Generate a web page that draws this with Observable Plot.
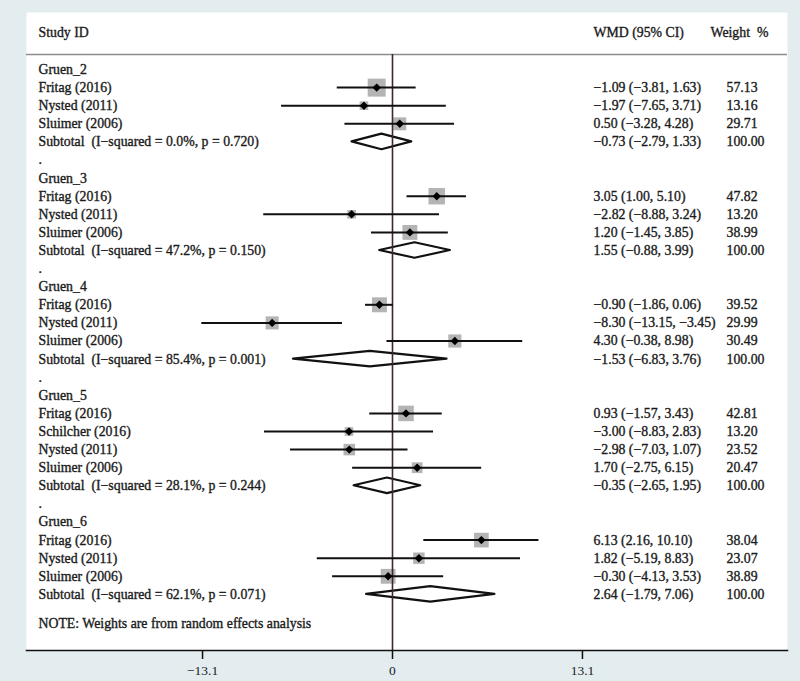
<!DOCTYPE html>
<html><head><meta charset="utf-8">
<script src="https://cdn.jsdelivr.net/npm/d3@7"></script>
<script src="https://cdn.jsdelivr.net/npm/@observablehq/plot@0.6"></script>
<style>body{margin:0;background:#e3ecef;} #chart svg{display:block}</style>
</head><body><div id="chart"></div>
<script>
const groups = ["Gruen_2", "Gruen_3", "Gruen_4", "Gruen_5", "Gruen_6"];
const studies = [
  ["Fritag (2016)", "Nysted (2011)", "Sluimer (2006)"],
  ["Fritag (2016)", "Nysted (2011)", "Sluimer (2006)"],
  ["Fritag (2016)", "Nysted (2011)", "Sluimer (2006)"],
  ["Fritag (2016)", "Schilcher (2016)", "Nysted (2011)", "Sluimer (2006)"],
  ["Fritag (2016)", "Nysted (2011)", "Sluimer (2006)"]
];
const estimates = [
  [-1.09, -1.97, 0.50],
  [3.05, -2.82, 1.20],
  [-0.90, -8.30, 4.30],
  [0.93, -3.00, -2.98, 1.70],
  [6.13, 1.82, -0.30]
];
const lowers = [
  [-3.81, -7.65, -3.28],
  [1.00, -8.88, -1.45],
  [-1.86, -13.15, -0.38],
  [-1.57, -8.83, -7.03, -2.75],
  [2.16, -5.19, -4.13]
];
const uppers = [
  [1.63, 3.71, 4.28],
  [5.10, 3.24, 3.85],
  [0.06, -3.45, 8.98],
  [3.43, 2.83, 1.07, 6.15],
  [10.10, 8.83, 3.53]
];
const weights = [
  [57.13, 13.16, 29.71],
  [47.82, 13.20, 38.99],
  [39.52, 29.99, 30.49],
  [42.81, 13.20, 23.52, 20.47],
  [38.04, 23.07, 38.89]
];
const subEst = [-0.73, 1.55, -1.53, -0.35, 2.64];
const subLow = [-2.79, -0.88, -6.83, -2.65, -1.79];
const subUp = [1.33, 3.99, 3.76, 1.95, 7.06];
const iSquared = ["0.0", "47.2", "85.4", "28.1", "62.1"];
const pValues = ["0.720", "0.150", "0.001", "0.244", "0.071"];
const tickValues = [-13.1, 0, 13.1];
const tickLabels = ["−13.1", "0", "13.1"];
const noteText = "NOTE: Weights are from random effects analysis";

const fmt = v => v.toFixed(2).replace("-", "−");
const rows = [];
let r = 0;
groups.forEach((g, i) => {
  rows.push({row: r++, kind: "group", label: g});
  studies[i].forEach((s, j) => rows.push({
    row: r++, kind: "study", label: s,
    est: estimates[i][j], lo: lowers[i][j], hi: uppers[i][j], w: weights[i][j]
  }));
  rows.push({
    row: r++, kind: "sub", g: i,
    label: `Subtotal\u00a0 (I−squared = ${iSquared[i]}%, p = ${pValues[i]})`,
    est: subEst[i], lo: subLow[i], hi: subUp[i], w: 100
  });
  if (i < groups.length - 1) rows.push({row: r++, kind: "dot", label: "."});
});
const noteRow = r + 0.6;
const studyRows = rows.filter(d => d.kind === "study");
const estRows = rows.filter(d => d.kind === "study" || d.kind === "sub");
estRows.forEach(d => {
  d.wmd = `${fmt(d.est)} (${fmt(d.lo)}, ${fmt(d.hi)})`;
  d.wt = d.w.toFixed(2);
});
const h = 0.43;
const diamonds = rows.filter(d => d.kind === "sub").flatMap(d => [
  {g: d.g, y: d.row - h, x1: d.est, x2: d.est},
  {g: d.g, y: d.row, x1: d.lo, x2: d.hi},
  {g: d.g, y: d.row + h, x1: d.est, x2: d.est}
]);

const yTop = -3.15, yBottom = 32.1, headerRow = -2.045, headerLine = -0.83;
const font = "'Liberation Serif', 'Times New Roman', serif";
const fs = 13.8;
const txt = {frameAnchor: "left", textAnchor: "start", fontSize: fs, fill: "#1a1a1a", stroke: "#1a1a1a", strokeWidth: 0.35};

const chart = Plot.plot({
  width: 800, height: 681,
  marginLeft: 26, marginRight: 13, marginTop: 12, marginBottom: 31,
  style: {background: "#e3ecef", fontFamily: font, fontSize: "13px", color: "#222"},
  x: {domain: [-25.24, 27.24]},
  y: {domain: [yTop, yBottom], reverse: true, axis: null},
  r: {domain: [0, 100], range: [0, 13.43]},
  marks: [
    Plot.frame({fill: "white", stroke: "none"}),
    Plot.ruleY([headerLine], {stroke: "#8c8c8c", strokeWidth: 1.5}),
    Plot.dot(studyRows, {x: "est", y: "row", r: "w", symbol: "square", fill: "#b4b4b4", stroke: "none"}),
    Plot.areaX(diamonds, {x1: "x1", x2: "x2", y: "y", z: "g", curve: "linear", fill: "white", stroke: "#111", strokeWidth: 2.2}),
    Plot.ruleX([0], {y1: headerLine, y2: yBottom, stroke: "#3b2a2a", strokeWidth: 1.6}),
    Plot.ruleY(studyRows, {x1: "lo", x2: "hi", y: "row", stroke: "#111", strokeWidth: 2}),
    Plot.dot(studyRows, {x: "est", y: "row", symbol: "diamond2", r: 3.8, fill: "#000", stroke: "none"}),
    Plot.text(rows, {...txt, y: "row", text: "label", dx: 12}),
    Plot.text(estRows, {...txt, y: "row", text: "wmd", dx: 567}),
    Plot.text(estRows, {...txt, y: "row", text: "wt", dx: 700}),
    Plot.text(["Study ID"], {...txt, y: headerRow, text: d => d, dx: 12}),
    Plot.text(["WMD (95% CI)"], {...txt, y: headerRow, text: d => d, dx: 567}),
    Plot.text(["Weight\u00a0 %"], {...txt, y: headerRow, text: d => d, dx: 684}),
    Plot.text([noteText], {...txt, y: noteRow, text: d => d, dx: 12}),
    Plot.frame({anchor: "bottom", stroke: "#111", strokeWidth: 1.5}),
    Plot.axisX(tickValues, {tickSize: 9, tickPadding: 6, tickFormat: (d, i) => tickLabels[i], stroke: "#111", strokeWidth: 1.5, fontSize: 13.5, fill: "#222", label: null})
  ]
});
document.getElementById("chart").append(chart);
</script></body></html>
